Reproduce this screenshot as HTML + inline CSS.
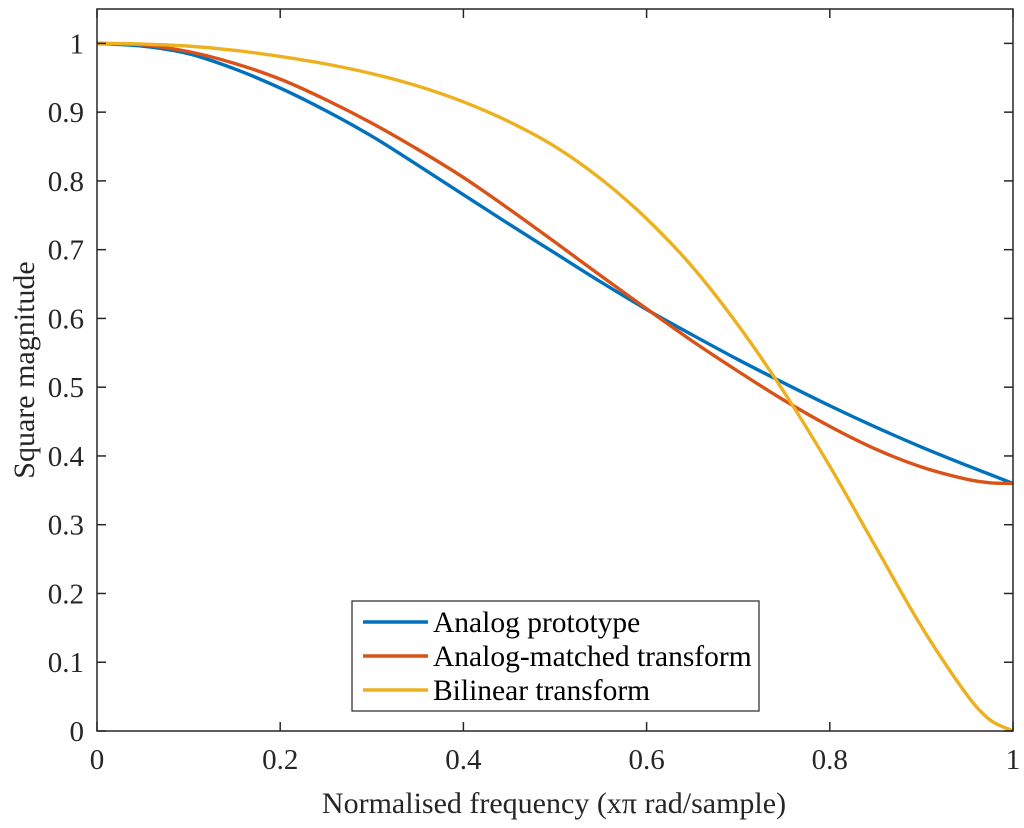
<!DOCTYPE html>
<html><head><meta charset="utf-8"><style>
html,body{margin:0;padding:0;background:#fff;}
svg{display:block;font-family:"Liberation Serif",serif;}
</style></head><body>
<svg id="chart" width="1024" height="828">
<rect x="0" y="0" width="1024" height="828" fill="#fff"/>
<g id="plot"></g>
</svg>
<script>
const xs = [0,0.05,0.1,0.15,0.2,0.25,0.3,0.35,0.4,0.45,0.5,0.55,0.6,0.65,0.7,0.75,0.8,0.85,0.9,0.95,0.975,1];
const analog = [1,0.996,0.985,0.963,0.935,0.902,0.865,0.823,0.78,0.737,0.695,0.653,0.613,0.576,0.54,0.506,0.473,0.442,0.413,0.386,0.373,0.36];
const matched = [1,0.998,0.988,0.971,0.948,0.918,0.884,0.846,0.805,0.759,0.711,0.662,0.614,0.567,0.523,0.481,0.443,0.41,0.384,0.366,0.361,0.36];
const bilinear = [1,0.999,0.996,0.99,0.981,0.97,0.956,0.938,0.915,0.886,0.85,0.803,0.745,0.675,0.59,0.493,0.385,0.268,0.152,0.052,0.016,0];
const xTicks = [0,0.2,0.4,0.6,0.8,1];
const xTickLabels = ["0","0.2","0.4","0.6","0.8","1"];
const yTicks = [0,0.1,0.2,0.3,0.4,0.5,0.6,0.7,0.8,0.9,1];
const yTickLabels = ["0","0.1","0.2","0.3","0.4","0.5","0.6","0.7","0.8","0.9","1"];
const seriesNames = ["Analog prototype","Analog-matched transform","Bilinear transform"];

const L=97,R=1013,T=9,B=731,yMax=1.05;
const sx=v=>L+(R-L)*v, sy=v=>B-(B-T)*v/yMax;
const NS="http://www.w3.org/2000/svg";
const g=document.getElementById('plot');
function mk(tag,attrs,parent){const e=document.createElementNS(NS,tag);for(const k in attrs)e.setAttribute(k,attrs[k]);(parent||g).appendChild(e);return e;}

function pathFor(ys){
  const p=xs.map((x,i)=>[sx(x),sy(ys[i])]);
  let d=`M${p[0][0]},${p[0][1]}`;
  for(let i=0;i<p.length-1;i++){
    const p0=p[i-1]||p[i],p1=p[i],p2=p[i+1],p3=p[i+2]||p[i+1];
    const h=p2[0]-p1[0];
    const s1=(p2[1]-p0[1])/(p2[0]-p0[0]||1), s2=(p3[1]-p1[1])/(p3[0]-p1[0]||1);
    const c1=[p1[0]+h/3,p1[1]+s1*h/3];
    const c2=[p2[0]-h/3,p2[1]-s2*h/3];
    d+=` C${c1[0]},${c1[1]} ${c2[0]},${c2[1]} ${p2[0]},${p2[1]}`;
  }
  return d;
}
const colors=["#0072BD","#D95319","#EDB120"];
const series=[analog,matched,bilinear];
const snames=["line-analog-prototype","line-analog-matched","line-bilinear"];
series.forEach((ys,i)=>{
  const e=mk('path',{d:pathFor(ys),fill:'none',stroke:colors[i],'stroke-width':3.4,'stroke-linejoin':'round'});
  
  
});
const box=mk('rect',{x:L,y:T,width:R-L,height:B-T,fill:'none',stroke:'#262626','stroke-width':1.5});


xTicks.forEach((v,i)=>{
  const x=sx(v);
  mk('line',{x1:x,x2:x,y1:B,y2:B-9,stroke:'#262626','stroke-width':1.5});
  mk('line',{x1:x,x2:x,y1:T,y2:T+9,stroke:'#262626','stroke-width':1.5});
  const t=mk('text',{x:x,y:B+38,'text-anchor':'middle','font-size':29,fill:'#262626'});
  t.textContent=xTickLabels[i];
  
  
});
yTicks.forEach((v,i)=>{
  const y=sy(v);
  mk('line',{x1:L,x2:L+9,y1:y,y2:y,stroke:'#262626','stroke-width':1.5});
  mk('line',{x1:R,x2:R-9,y1:y,y2:y,stroke:'#262626','stroke-width':1.5});
  const t=mk('text',{x:L-13,y:y+10,'text-anchor':'end','font-size':29,fill:'#262626'});
  t.textContent=yTickLabels[i];
  
  
});
const xl=mk('text',{x:(L+R)/2-1,y:813,'text-anchor':'middle','font-size':30,fill:'#262626'});
xl.textContent="Normalised frequency (x\u03C0 rad/sample)";


const yl=mk('text',{x:0,y:0,'text-anchor':'middle','font-size':30,fill:'#262626',transform:`translate(34,${(T+B)/2}) rotate(-90)`});
yl.textContent="Square magnitude";


const lg=mk('g',{});


mk('rect',{x:352,y:601,width:407,height:110,fill:'#fff',stroke:'#262626','stroke-width':1.2},lg);
seriesNames.forEach((n,i)=>{
  const y=622+i*34;
  const ln=mk('line',{x1:363,x2:428,y1:y,y2:y,stroke:colors[i],'stroke-width':3.4},lg);
  
  
  const t=mk('text',{x:433,y:y+10,'font-size':29.5,fill:'#000'},lg);
  t.textContent=n;
  
  
});
</script>
</body></html>
